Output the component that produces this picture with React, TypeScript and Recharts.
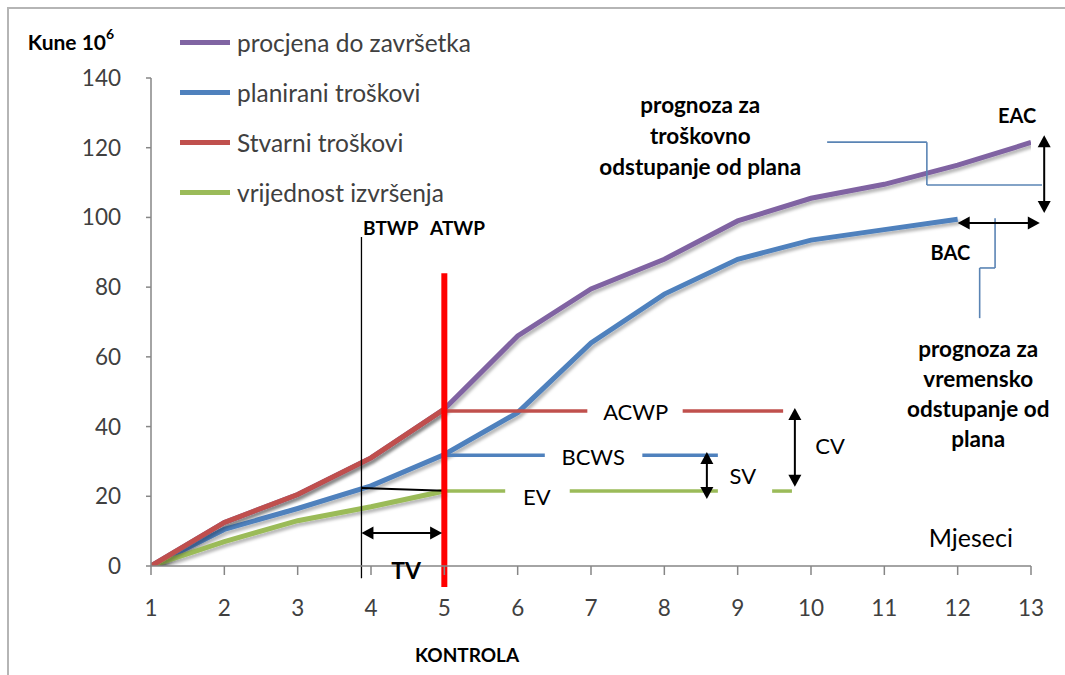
import React from 'react';
import { LineChart, Line, XAxis, YAxis, ReferenceLine, ReferenceDot, Legend } from 'recharts';

// ---- data ----
const months = [1, 2, 3, 4, 5, 6, 7, 8, 9, 10, 11, 12, 13];
const procjena = [0, 12.5, 20.5, 31, 45, 66, 79.5, 88, 99, 105.5, 109.5, 115, 121.5];
const planirani = [0, 10.5, 16.5, 23, 32, 44, 64, 78, 88, 93.5, 96.5, 99.5];
const stvarni = [0, 12.5, 20.5, 31, 45];
const vrijednost = [0, 7, 13, 17, 21.5];
const yTicks = [0, 20, 40, 60, 80, 100, 120, 140];

const seriesNames = ['procjena do završetka', 'planirani troškovi', 'Stvarni troškovi', 'vrijednost izvršenja'];

// annotation values (data units)
const kontrola = 5;
const btwp = 3.87;
const acwpLevel = 44.5;
const bcwsLevel = 31.8;
const evLevel = 21.5;
const acwpSegments = [[5, 6.95], [8.25, 9.62]];
const bcwsSegments = [[5, 6.37], [7.7, 8.73]];
const evSegments = [[5, 5.83], [6.71, 8.73], [9.47, 9.74]];
const connectorCost = [[10.22, 121.6], [11.58, 121.6], [11.58, 109.3], [13.15, 109.3]];
const connectorTime = [[12.51, 99.8], [12.51, 85.5], [12.3, 85.5], [12.3, 71.1]];
const arrows = [
  { from: [3.87, 9.5], to: [4.97, 9.5] },   // TV
  { from: [8.58, 32.7], to: [8.58, 19.2] }, // SV
  { from: [9.78, 45.3], to: [9.78, 22.7] }, // CV
  { from: [13.18, 123.6], to: [13.18, 101.3] }, // EAC
  { from: [12.0, 98.4], to: [13.12, 98.4] }, // BAC
];

const data = months.map((m, i) => ({
  m,
  procjena: procjena[i] ?? null,
  planirani: planirani[i] ?? null,
  stvarni: stvarni[i] ?? null,
  vrijednost: vrijednost[i] ?? null,
}));

// ---- styles ----
const FONT = "Lato, 'Liberation Sans', sans-serif";
const C_PURPLE = '#8064A2';
const C_BLUE = '#4F81BD';
const C_RED = '#C0504D';
const C_GREEN = '#9BBB59';
const seriesColors = [C_PURPLE, C_BLUE, C_RED, C_GREEN];

const arrowShape = (p: any) => {
  const { x1, y1, x2, y2 } = p;
  const dx = x2 - x1;
  const dy = y2 - y1;
  const len = Math.hypot(dx, dy) || 1;
  const ux = dx / len;
  const uy = dy / len;
  const h = 12;
  const w = 6.5;
  const head = (tx: number, ty: number, vx: number, vy: number) =>
    `${tx},${ty} ${tx - vx * h - vy * w},${ty - vy * h + vx * w} ${tx - vx * h + vy * w},${ty - vy * h - vx * w}`;
  return (
    <g>
      <line x1={x1 + ux * h * 0.7} y1={y1 + uy * h * 0.7} x2={x2 - ux * h * 0.7} y2={y2 - uy * h * 0.7} stroke="#000" strokeWidth={2} />
      <polygon points={head(x2, y2, ux, uy)} fill="#000" />
      <polygon points={head(x1, y1, -ux, -uy)} fill="#000" />
    </g>
  );
};

const textShape = (lines: string[], opts: { size: number; weight?: any; lh?: number; anchor?: any; fill?: string }) => (p: any) => {
  const { cx, cy } = p;
  const lh = opts.lh ?? opts.size * 1.3;
  const start = cy - ((lines.length - 1) * lh) / 2;
  return (
    <g>
      {lines.map((t, i) => (
        <text
          key={i}
          x={cx}
          y={start + i * lh}
          textAnchor={opts.anchor ?? 'middle'}
          dominantBaseline="central"
          fontFamily={FONT}
          fontSize={opts.size}
          fontWeight={opts.weight ?? 'normal'}
          fill={opts.fill ?? '#000'}
        >
          {t}
        </text>
      ))}
    </g>
  );
};

const kuneShape = (p: any) => (
  <text x={p.cx} y={p.cy} dominantBaseline="central" fontFamily={FONT} fontSize={21} fontWeight="bold" fill="#000">
    Kune 10
    <tspan fontSize={14} dy={-8}>6</tspan>
  </text>
);

const legendContent = () => (
  <div style={{ fontFamily: FONT }}>
    {seriesNames.map((n, i) => (
      <div key={n} style={{ display: 'flex', alignItems: 'center', height: 50 }}>
        <div style={{ width: 50, height: 5, background: seriesColors[i], marginRight: 7 }} />
        <span style={{ fontSize: 24.5, color: '#404040' }}>{n}</span>
      </div>
    ))}
  </div>
);

const dot = (x: number, y: number, shape: any, key: string) => (
  <ReferenceDot key={key} x={x} y={y} r={0} ifOverflow="visible" shape={shape} />
);

const polyline = (pts: number[][], color: string, width: number, keyPrefix: string) =>
  pts.slice(1).map((pt, i) => (
    <ReferenceLine
      key={keyPrefix + i}
      segment={[{ x: pts[i][0], y: pts[i][1] }, { x: pt[0], y: pt[1] }]}
      stroke={color}
      strokeWidth={width}
      ifOverflow="visible"
    />
  ));

export default function App() {
  return (
    <div style={{ position: 'absolute', left: 0, top: 0, width: 1065, height: 675, background: '#fff' }}>
      <div style={{ position: 'absolute', left: 7, top: 7, width: 1058, height: 668, borderLeft: '2px solid #b5b5b5', borderTop: '2px solid #b5b5b5' }} />
      <LineChart width={1065} height={675} data={data} margin={{ top: 78, right: 34, bottom: 49, left: 90 }}>
        <defs>
          <filter id="shd" x="-5%" y="-5%" width="110%" height="115%">
            <feDropShadow dx="2" dy="3" stdDeviation="1.5" floodColor="#000" floodOpacity="0.28" />
          </filter>
        </defs>
        <XAxis
          dataKey="m"
          type="number"
          domain={[1, 13]}
          ticks={months}
          allowDataOverflow
          height={60}
          tickSize={9}
          tickMargin={25}
          axisLine={{ stroke: '#868686', strokeWidth: 1.5 }}
          tickLine={{ stroke: '#868686', strokeWidth: 1.5 }}
          tick={{ fill: '#404040', fontSize: 22.5, fontFamily: FONT }}
        />
        <YAxis
          type="number"
          domain={[0, 140]}
          ticks={yTicks}
          allowDataOverflow
          width={61}
          tickSize={5}
          tickMargin={25}
          axisLine={{ stroke: '#868686', strokeWidth: 1.5 }}
          tickLine={{ stroke: '#868686', strokeWidth: 1.5 }}
          tick={{ fill: '#404040', fontSize: 22.5, fontFamily: FONT }}
        />
        <Legend
          layout="vertical"
          align="center"
          verticalAlign="middle"
          wrapperStyle={{ left: 180, top: 17, width: 340, height: 200 }}
          content={legendContent}
        />
        <Line dataKey="procjena" name={seriesNames[0]} stroke={C_PURPLE} strokeWidth={5} dot={false} isAnimationActive={false} filter="url(#shd)" />
        <Line dataKey="planirani" name={seriesNames[1]} stroke={C_BLUE} strokeWidth={5} dot={false} isAnimationActive={false} filter="url(#shd)" />
        <Line dataKey="vrijednost" name={seriesNames[3]} stroke={C_GREEN} strokeWidth={5} dot={false} isAnimationActive={false} filter="url(#shd)" />
        <Line dataKey="stvarni" name={seriesNames[2]} stroke={C_RED} strokeWidth={5} dot={false} isAnimationActive={false} filter="url(#shd)" />

        {acwpSegments.map((s, i) => (
          <ReferenceLine key={'a' + i} segment={[{ x: s[0], y: acwpLevel }, { x: s[1], y: acwpLevel }]} stroke={C_RED} strokeWidth={3.5} ifOverflow="visible" />
        ))}
        {bcwsSegments.map((s, i) => (
          <ReferenceLine key={'b' + i} segment={[{ x: s[0], y: bcwsLevel }, { x: s[1], y: bcwsLevel }]} stroke={C_BLUE} strokeWidth={3.5} ifOverflow="visible" />
        ))}
        {evSegments.map((s, i) => (
          <ReferenceLine key={'e' + i} segment={[{ x: s[0], y: evLevel }, { x: s[1], y: evLevel }]} stroke={C_GREEN} strokeWidth={3.5} ifOverflow="visible" />
        ))}
        {polyline(connectorCost, '#5A84B4', 1.6, 'cc')}
        {polyline(connectorTime, '#5A84B4', 1.6, 'ct')}

        <ReferenceLine segment={[{ x: btwp, y: -3.5 }, { x: btwp, y: 94.4 }]} stroke="#000" strokeWidth={1.3} ifOverflow="visible" />
        <ReferenceLine segment={[{ x: btwp, y: 22.4 }, { x: kontrola, y: 21.6 }]} stroke="#000" strokeWidth={2} ifOverflow="visible" />
        <ReferenceLine segment={[{ x: kontrola, y: -6 }, { x: kontrola, y: 84 }]} stroke="#FF0000" strokeWidth={6} ifOverflow="visible" />

        {arrows.map((a, i) => (
          <ReferenceLine key={'ar' + i} segment={[{ x: a.from[0], y: a.from[1] }, { x: a.to[0], y: a.to[1] }]} ifOverflow="visible" shape={arrowShape} />
        ))}

        {dot(-0.68, 150.6, kuneShape, 'kune')}
        {dot(4.27, 97.2, textShape(['BTWP'], { size: 19, weight: 'bold' }), 't1')}
        {dot(5.18, 97.2, textShape(['ATWP'], { size: 19, weight: 'bold' }), 't2')}
        {dot(4.48, -1.15, textShape(['TV'], { size: 23, weight: 'bold' }), 't3')}
        {dot(5.31, -25.5, textShape(['KONTROLA'], { size: 19, weight: 'bold' }), 't4')}
        {dot(7.61, 44.2, textShape(['ACWP'], { size: 22 }), 't5')}
        {dot(7.03, 31.3, textShape(['BCWS'], { size: 22 }), 't6')}
        {dot(6.26, 19.8, textShape(['EV'], { size: 22 }), 't7')}
        {dot(9.07, 26.1, textShape(['SV'], { size: 22 }), 't8')}
        {dot(10.26, 34.7, textShape(['CV'], { size: 22 }), 't9')}
        {dot(12.81, 129.4, textShape(['EAC'], { size: 20, weight: 'bold' }), 't10')}
        {dot(11.9, 90.1, textShape(['BAC'], { size: 20, weight: 'bold' }), 't11')}
        {dot(8.49, 123.4, textShape(['prognoza za', 'troškovno', 'odstupanje od plana'], { size: 22.5, weight: 'bold', lh: 31 }), 't12')}
        {dot(12.28, 49.6, textShape(['prognoza za', 'vremensko', 'odstupanje od', 'plana'], { size: 22.5, weight: 'bold', lh: 30 }), 't13')}
        {dot(12.18, 8.3, textShape(['Mjeseci'], { size: 25 }), 't14')}
      </LineChart>
    </div>
  );
}
